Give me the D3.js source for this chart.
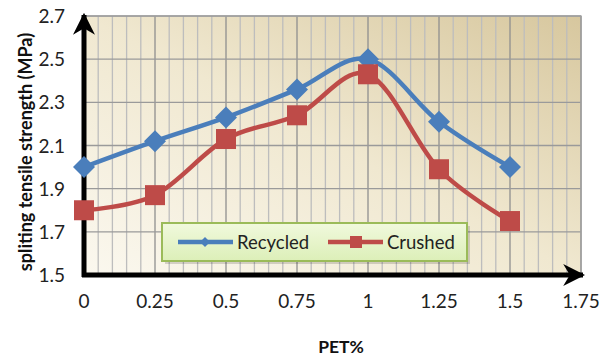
<!DOCTYPE html>
<html><head><meta charset="utf-8">
<script src="https://cdn.jsdelivr.net/npm/d3@7"></script>
<style>body{margin:0;background:#fff}svg{display:block}</style>
</head><body><svg id="c" width="609" height="358"></svg>
<script>
const pet = [0, 0.25, 0.5, 0.75, 1, 1.25, 1.5];
const recycled = [2.0, 2.12, 2.23, 2.36, 2.5, 2.21, 2.0];
const crushed = [1.8, 1.87, 2.13, 2.24, 2.43, 1.99, 1.75];
const xTicks = [0, 0.25, 0.5, 0.75, 1, 1.25, 1.5, 1.75];
const yTicks = [1.5, 1.7, 1.9, 2.1, 2.3, 2.5, 2.7];
const seriesNames = ["Recycled", "Crushed"];
const colors = ["#4a7ebb", "#be4b48"];

const svg = d3.select("#c");
const L = 84, R = 581, T = 16, B = 275;
const x = d3.scaleLinear().domain([0, 1.75]).range([L, R]);
const y = d3.scaleLinear().domain([1.5, 2.7]).range([B, T]);
const font = "Lato, 'Open Sans', sans-serif";

const defs = svg.append("defs");
const bg = defs.append("linearGradient").attr("id","bg").attr("x1","0").attr("y1","1").attr("x2","1").attr("y2","0");
bg.append("stop").attr("offset","0").attr("stop-color","#fbf8ef");
bg.append("stop").attr("offset","0.5").attr("stop-color","#f0e8d0");
bg.append("stop").attr("offset","1").attr("stop-color","#d7c79e");
const lg = defs.append("linearGradient").attr("id","lg").attr("x1","0").attr("y1","0").attr("x2","0").attr("y2","1");
lg.append("stop").attr("offset","0").attr("stop-color","#f1f9dd");
lg.append("stop").attr("offset","1").attr("stop-color","#dcefb8");
const ah = defs.append("marker").attr("id","arr").attr("viewBox","0 0 10 10").attr("refX",9).attr("refY",5)
  .attr("markerWidth",4.4).attr("markerHeight",4.4).attr("markerUnits","strokeWidth").attr("orient","auto");
ah.append("path").attr("d","M0,0 L10,5 L0,10 L3,5 Z").attr("fill","#000");

svg.append("rect").attr("x",L).attr("y",T).attr("width",R-L).attr("height",B-T).attr("fill","url(#bg)");

const minor = d3.range(0, 1.7501, 0.05);
svg.append("g").selectAll("line").data(minor).join("line")
  .attr("x1",d=>x(d)).attr("x2",d=>x(d)).attr("y1",T).attr("y2",B)
  .attr("stroke",(d)=>Math.abs(d/0.25-Math.round(d/0.25))<1e-6?"#8f8f8f":"#bdbdbd").attr("stroke-width",1.3);
svg.append("g").selectAll("line").data(yTicks).join("line")
  .attr("x1",L).attr("x2",R).attr("y1",d=>y(d)).attr("y2",d=>y(d))
  .attr("stroke","#9a9a9a").attr("stroke-width",1.3);
svg.append("rect").attr("x",L).attr("y",T).attr("width",R-L).attr("height",B-T).attr("fill","none").attr("stroke","#a0a0a0").attr("stroke-width",1.3);

svg.append("line").attr("x1",x(0)).attr("y1",B+2).attr("x2",x(0)).attr("y2",T-1)
  .attr("stroke","#000").attr("stroke-width",5).attr("marker-end","url(#arr)");
svg.append("line").attr("x1",x(0)-2).attr("y1",B).attr("x2",R+2).attr("y2",B)
  .attr("stroke","#000").attr("stroke-width",5).attr("marker-end","url(#arr)");

svg.append("g").selectAll("text").data(yTicks).join("text")
  .attr("x",65).attr("y",d=>y(d)+7).attr("text-anchor","end")
  .attr("font-family",font).attr("font-size",19).attr("fill","#222").text(d=>d.toFixed(1));
svg.append("g").selectAll("text").data(xTicks).join("text")
  .attr("x",d=>x(d)).attr("y",308).attr("text-anchor","middle")
  .attr("font-family",font).attr("font-size",19).attr("fill","#222").text(d=>String(d));

svg.append("text").attr("transform","translate(32,152) rotate(-90)").attr("text-anchor","middle")
  .attr("font-family",font).attr("font-weight","bold").attr("font-size",18).attr("fill","#111")
  .text("spliting tensile strength (MPa)");
svg.append("text").attr("x",341).attr("y",353).attr("text-anchor","middle")
  .attr("font-family",font).attr("font-weight","bold").attr("font-size",17.5).attr("fill","#111").text("PET%");

const line = d3.line().curve(d3.curveCatmullRom.alpha(0)).x((d,i)=>x(pet[i])).y(d=>y(d));
[recycled, crushed].forEach((vals,k)=>{
  svg.append("path").datum(vals).attr("d",line).attr("fill","none").attr("stroke",colors[k]).attr("stroke-width",4.5);
});
svg.append("g").selectAll("path").data(recycled).join("path")
  .attr("transform",(d,i)=>`translate(${x(pet[i])},${y(d)})`)
  .attr("d","M0,-11 L11,0 L0,11 L-11,0 Z").attr("fill",colors[0]);
svg.append("g").selectAll("rect").data(crushed).join("rect")
  .attr("x",(d,i)=>x(pet[i])-10).attr("y",d=>y(d)-10).attr("width",20).attr("height",20).attr("fill",colors[1]);

const lgX = 162, lgY = 223, lgW = 305, lgH = 38;
svg.append("rect").attr("x",lgX+3).attr("y",lgY+3).attr("width",lgW).attr("height",lgH).attr("fill","#000").attr("opacity",0.15);
svg.append("rect").attr("x",lgX).attr("y",lgY).attr("width",lgW).attr("height",lgH).attr("fill","url(#lg)").attr("stroke","#9bbb59").attr("stroke-width",2);
const items = [{x:178, tx:237},{x:328, tx:387}];
items.forEach((it,k)=>{
  const cy = lgY+19;
  svg.append("line").attr("x1",it.x).attr("x2",it.x+55).attr("y1",cy).attr("y2",cy).attr("stroke",colors[k]).attr("stroke-width",4.5);
  if(k===0) svg.append("path").attr("transform",`translate(${it.x+27},${cy})`).attr("d","M0,-5 L5,0 L0,5 L-5,0 Z").attr("fill",colors[0]);
  else svg.append("rect").attr("x",it.x+22).attr("y",cy-6).attr("width",12).attr("height",12).attr("fill",colors[1]);
  svg.append("text").attr("x",it.tx).attr("y",cy+6.5).attr("font-family",font).attr("font-size",18.5).attr("fill","#222").text(seriesNames[k]);
});
</script></body></html>
